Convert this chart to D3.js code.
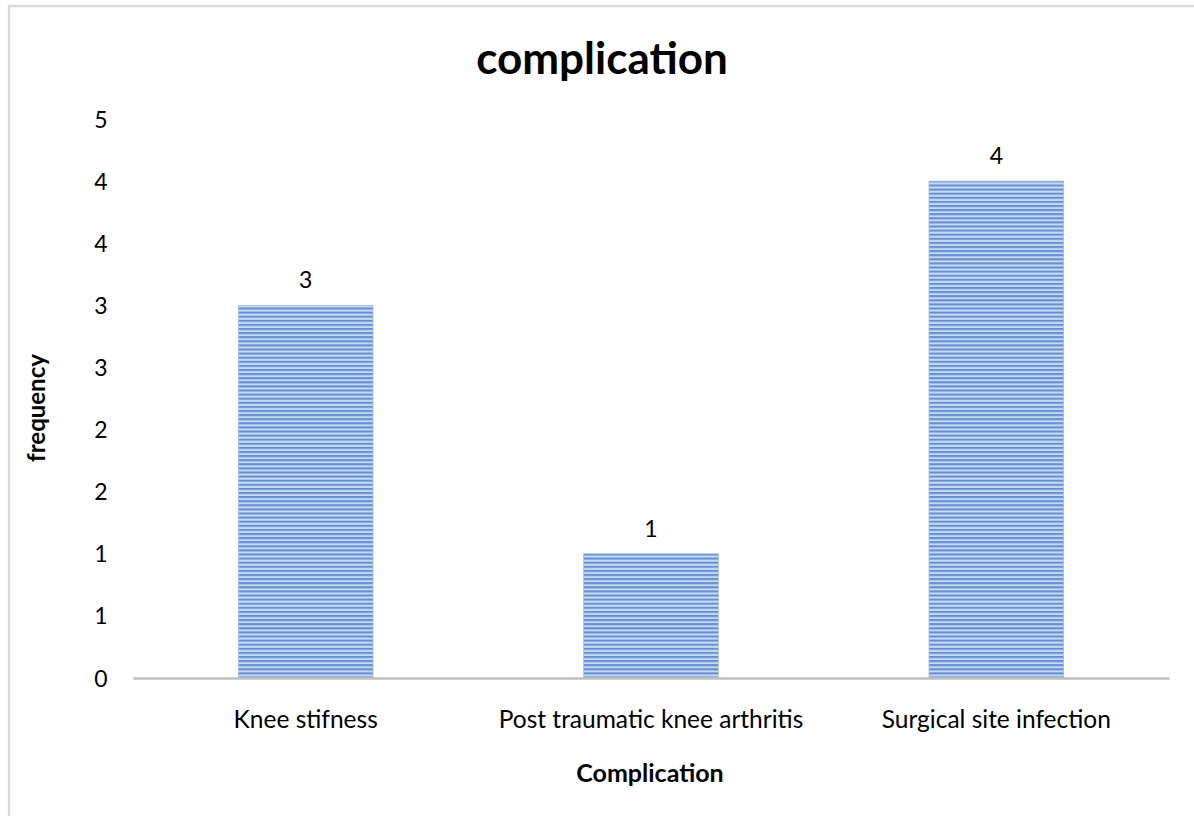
<!DOCTYPE html>
<html>
<head>
<meta charset="utf-8">
<script src="https://cdn.jsdelivr.net/npm/d3@7"></script>
<style>
  body { margin: 0; background: #fff; overflow: hidden; }
  svg { display: block; }
  text { font-family: Lato, "Open Sans", sans-serif; fill: #000; }
</style>
</head>
<body>
<div id="chart"></div>
<script>
// data
var categories = ["Knee stifness", "Post traumatic knee arthritis", "Surgical site infection"];
var frequency = [3, 1, 4];
// the original axis shows half steps rounded to whole numbers
var tickValues = [0, 0.5, 1, 1.5, 2, 2.5, 3, 3.5, 4, 4.5];
var tickLabels = ["0", "1", "1", "2", "2", "3", "3", "4", "4", "5"];

var W = 1194, H = 816;
var plot = {left: 133, right: 1169, top: 119, bottom: 678};

var svg = d3.select("#chart").append("svg")
    .attr("width", W)
    .attr("height", H);

// striped fill for the bars
var defs = svg.append("defs");
var pat = defs.append("pattern")
    .attr("id", "stripes")
    .attr("patternUnits", "userSpaceOnUse")
    .attr("width", 8)
    .attr("height", 4.1);
pat.append("rect").attr("width", 8).attr("height", 4.1).attr("fill", "#c9d9f1");
pat.append("rect").attr("y", 0).attr("width", 8).attr("height", 1.6).attr("fill", "#5d8dd3");
pat.append("rect").attr("y", 1.6).attr("width", 8).attr("height", 0.8).attr("fill", "#94b4e3");

// outer frame (only top and left edges are visible)
svg.append("rect")
    .attr("x", 9).attr("y", 6)
    .attr("width", W + 100).attr("height", H + 100)
    .attr("fill", "none")
    .attr("stroke", "#d9d9d9")
    .attr("stroke-width", 2.5);

var x = d3.scaleBand()
    .domain(categories)
    .range([plot.left, plot.right])
    .paddingInner(0.61)
    .paddingOuter(0.305);

var y = d3.scaleLinear()
    .domain([0, 4.5])
    .range([plot.bottom, plot.top]);

// bars
svg.selectAll(".bar")
    .data(frequency)
    .enter().append("rect")
    .attr("class", "bar")
    .attr("x", function(d, i) { return x(categories[i]); })
    .attr("y", function(d) { return y(d); })
    .attr("width", x.bandwidth())
    .attr("height", function(d) { return y(0) - y(d); })
    .attr("fill", "url(#stripes)")
    .attr("stroke", "#a9bcd8")
    .attr("stroke-width", 0.8);

// value labels
svg.selectAll(".val")
    .data(frequency)
    .enter().append("text")
    .attr("class", "val")
    .attr("x", function(d, i) { return x(categories[i]) + x.bandwidth() / 2; })
    .attr("y", function(d) { return y(d) - 17; })
    .attr("text-anchor", "middle")
    .attr("font-size", 23)
    .text(function(d) { return d; });

// y axis: labels only
var yAxis = d3.axisLeft(y)
    .tickValues(tickValues)
    .tickFormat(function(d, i) { return tickLabels[i]; })
    .tickSize(0)
    .tickPadding(0);
var gy = svg.append("g")
    .attr("transform", "translate(101,0)")
    .call(yAxis);
gy.select(".domain").remove();
gy.selectAll("text")
    .attr("font-size", 23)
    .attr("text-anchor", "middle")
    .attr("dy", "0.35em")
    .style("font-family", "Lato, sans-serif");

// x axis
var xAxis = d3.axisBottom(x).tickSize(0).tickPadding(33);
var gx = svg.append("g")
    .attr("transform", "translate(0," + plot.bottom + ")")
    .call(xAxis);
gx.select(".domain")
    .attr("stroke", "#bfbfbf")
    .attr("stroke-width", 2.5);
gx.selectAll("text")
    .attr("font-size", 24.5)
    .style("font-family", "Lato, sans-serif");

// titles
svg.append("text")
    .attr("x", 602).attr("y", 74)
    .attr("text-anchor", "middle")
    .attr("font-size", 44)
    .attr("font-weight", "bold")
    .text("complication");

svg.append("text")
    .attr("x", 650).attr("y", 782)
    .attr("text-anchor", "middle")
    .attr("font-size", 25)
    .attr("font-weight", "bold")
    .text("Complication");

svg.append("text")
    .attr("transform", "translate(45,408) rotate(-90)")
    .attr("text-anchor", "middle")
    .attr("font-size", 24)
    .attr("font-weight", "bold")
    .text("frequency");
</script>
</body>
</html>
